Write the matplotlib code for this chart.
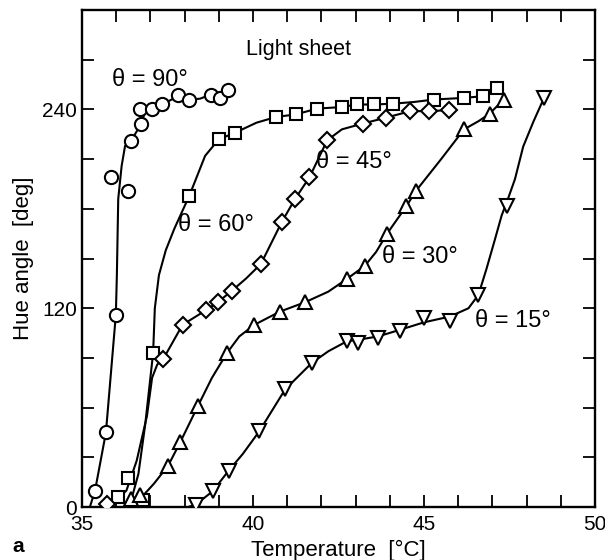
import matplotlib
matplotlib.use("Agg")
import matplotlib.pyplot as plt
from matplotlib.ticker import MultipleLocator

plt.rcParams['font.family'] = ['Liberation Sans', 'DejaVu Sans']

# measured points (temperature [°C], hue angle [deg])
t90 = [35.38, 35.70, 35.99, 35.85, 36.34, 36.43, 36.74, 36.70, 37.05, 37.34, 37.81, 38.13, 38.77, 39.04, 39.27]
h90 = [9.7, 45, 116, 199, 191, 221, 231.5, 240, 240, 243, 249, 245.5, 249, 247, 251.5]

t60 = [36.06, 36.35, 36.79, 37.08, 38.14, 39.0, 39.48, 40.68, 41.25, 41.87, 42.61, 43.03, 43.55, 44.1, 45.29, 46.17, 46.72, 47.14]
h60 = [6, 17.4, 4.2, 93, 188, 222, 226, 235.5, 237, 240.5, 241.5, 243, 243, 243.5, 246, 247, 248, 253]

t45 = [35.72, 37.38, 37.94, 38.64, 38.99, 39.38, 40.23, 40.84, 41.23, 41.65, 42.17, 43.21, 43.88, 44.6, 45.15, 45.74]
h45 = [2, 89.5, 110, 119, 124, 130.5, 146.7, 172, 186, 199, 221.4, 231.5, 235, 239, 239, 239.6]

t30 = [36.42, 36.70, 37.52, 37.87, 38.39, 39.24, 40.04, 40.79, 41.52, 42.74, 43.27, 43.92, 44.48, 44.77, 46.17, 46.92, 47.33]
h30 = [5, 7.5, 25, 39, 61, 93, 110, 118, 123.6, 137.6, 145.6, 165, 181.5, 191, 228, 237.5, 246]

t15 = [38.33, 38.82, 39.29, 40.18, 40.94, 41.72, 42.74, 43.08, 43.66, 44.3, 45.0, 45.76, 46.59, 47.42, 48.51]
h15 = [1.5, 9.5, 22, 45.6, 71, 87, 100, 99, 102, 106, 114, 112, 128, 182, 247]

# hand-drawn guide curves
c90_t = [35.23, 35.38, 35.70, 35.99, 36.02, 36.06, 36.16, 36.26, 36.43, 36.74, 36.85, 37.05, 37.34, 37.81, 38.13, 38.45, 38.77, 39.04, 39.27]
c90_h = [0, 9.7, 45, 116, 140, 186, 206, 218, 221, 231.5, 239, 240, 243, 248, 246, 246.5, 249, 248, 251]

c60_t = [36.45, 36.65, 36.85, 37.0, 37.08, 37.13, 37.25, 37.45, 37.7, 37.92, 38.14, 38.6, 39.0, 39.48, 40.1, 40.68, 41.25,
         41.87, 42.61, 43.03, 43.55, 44.1, 44.7, 45.29, 46.17, 46.72, 47.14]
c60_h = [5, 20, 50, 78, 93, 120, 140, 155, 168, 178, 188, 212, 222, 226, 232, 235.5, 237,
         240.5, 241.5, 243, 243, 243.5, 244.5, 246, 247, 248, 253]

c45_t = [35.72, 36.0, 36.3, 36.6, 36.9, 37.05, 37.2, 37.38, 37.94, 38.64, 38.99, 39.38, 39.8, 40.23, 40.84, 41.23, 41.65,
         42.17, 42.6, 43.21, 43.88, 44.6, 45.15, 45.74]
c45_h = [2, 4, 10, 28, 55, 78, 86, 89.5, 110, 119, 124, 130.5, 138, 146.7, 172, 186, 199,
         221.4, 228, 231.5, 235, 239, 239, 239.6]

c30_t = [36.43, 36.79, 37.1, 37.52, 37.87, 38.39, 38.8, 39.24, 39.6, 40.04, 40.79, 41.52, 42.2, 42.74, 43.27, 43.6, 43.92,
         44.48, 44.77, 45.5, 46.17, 46.6, 46.92, 47.33]
c30_h = [5, 7, 14, 25, 39, 61, 78, 93, 103, 110, 118, 123.6, 130, 137.6, 145.6, 154, 165,
         181.5, 191, 210, 228, 233, 237.5, 246]

c15_t = [38.1, 38.33, 38.82, 39.29, 39.7, 40.18, 40.94, 41.72, 42.2, 42.74, 43.08, 43.66, 44.3, 45.0, 45.76, 46.3, 46.59,
         46.83, 47.08, 47.27, 47.42, 47.66, 47.9, 48.2, 48.51]
c15_h = [0, 1.5, 9.5, 22, 32, 45.6, 71, 87, 94, 100, 101, 103, 107, 111.5, 115, 120, 128,
         144, 162, 176, 184, 198, 217.6, 232.7, 247]

labels = ["θ = 90°", "θ = 60°", "θ = 45°", "θ = 30°", "θ = 15°"]
label_pos = [(35.88, 258), (37.8, 170), (41.84, 208), (43.78, 151), (46.5, 112)]

fig = plt.figure(figsize=(6.05, 5.6), dpi=100)
ax = fig.add_axes([0.1355, 0.0946, 0.848, 0.8874])

lw = 1.5
mew = 1.5
ax.plot(c90_t, c90_h, 'k-', lw=lw, zorder=2)
ax.plot(c60_t, c60_h, 'k-', lw=lw, zorder=2)
ax.plot(c45_t, c45_h, 'k-', lw=lw, zorder=2)
ax.plot(c30_t, c30_h, 'k-', lw=lw, zorder=2)
ax.plot(c15_t, c15_h, 'k-', lw=lw, zorder=2)

ax.plot(t90, h90, 'o', ms=9.5, mfc='white', mec='black', mew=mew, zorder=3)
ax.plot(t60, h60, 's', ms=9, mfc='white', mec='black', mew=mew, zorder=3)
ax.plot(t45, h45, 'D', ms=8.5, mfc='white', mec='black', mew=mew, zorder=3)
ax.plot(t30, h30, '^', ms=9.5, mfc='white', mec='black', mew=mew, zorder=3)
ax.plot(t15, h15, 'v', ms=9.5, mfc='white', mec='black', mew=mew, zorder=3)

for lab, (x, y) in zip(labels, label_pos):
    ax.text(x, y, lab, fontsize=17, ha='left', va='center', zorder=4)
ax.text(39.8, 276, "Light sheet", fontsize=15.5, ha='left', va='center')

ax.set_xlim(35, 50)
ax.set_ylim(0, 300)
ax.xaxis.set_major_locator(MultipleLocator(5))
ax.xaxis.set_minor_locator(MultipleLocator(1))
ax.yaxis.set_major_locator(MultipleLocator(120))
ax.yaxis.set_minor_locator(MultipleLocator(30))
ax.tick_params(which='both', direction='in', top=True, right=True, length=8.5, width=1.3, labelsize=15)
ax.tick_params(axis='x', pad=6)
for s in ax.spines.values():
    s.set_linewidth(1.7)

ax.set_xlabel("Temperature  [°C]", fontsize=16, labelpad=4)
ax.set_ylabel("Hue angle  [deg]", fontsize=16, labelpad=6)
fig.text(0.02, 0.015, "a", fontsize=15, fontweight='bold')

fig.savefig("out.png", dpi=100)
